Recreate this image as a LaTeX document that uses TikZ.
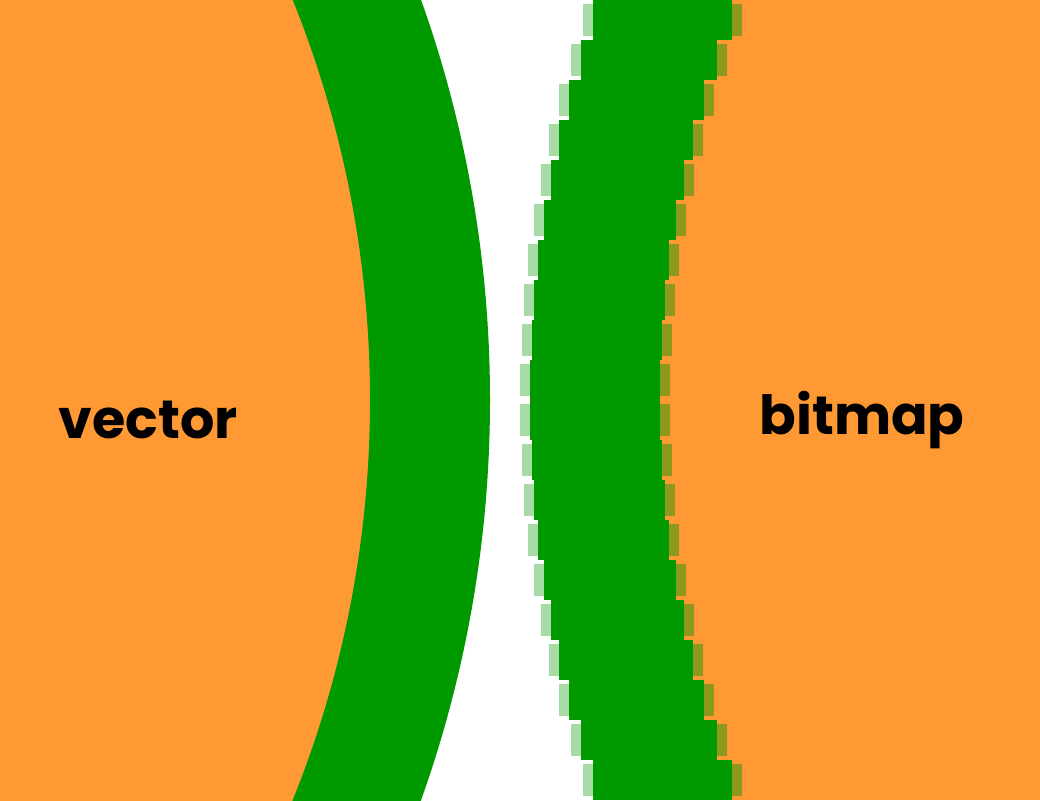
\documentclass[tikz,border=0pt]{standalone}
\usepackage{fontspec}
\setmainfont{Poppins}
\definecolor{peel}{HTML}{FF9933}
\definecolor{leaf}{HTML}{009900}

\begin{document}
\begin{tikzpicture}[x=1pt,y=-1pt]
\tikzset{word/.style={font=\bfseries\fontsize{54}{60}\selectfont,text=black}}

\useasboundingbox (0,0) rectangle (1040,800);
\clip (0,0) rectangle (1040,800);
\fill[white] (0,0) rectangle (1040,800);

% smooth circle
\fill[peel] (-700,400) circle[radius=1130pt];
\draw[leaf,line width=120pt] (-700,400) circle[radius=1130pt];

% pixelated circle, one band of pixels per step
\foreach \i in {0,...,19}{
  \pgfmathsetmacro{\dy}{(40*\i+20-400)/100}
  \pgfmathsetmacro{\xo}{1700-100*sqrt(11.7*11.7-\dy*\dy)}
  \pgfmathsetmacro{\xi}{1700-100*sqrt(10.4*10.4-\dy*\dy)}
  \fill[leaf] (\xo,40*\i) rectangle (1040,40*\i+40);
  \fill[leaf,opacity=.35] (\xo-10,40*\i+4) rectangle (\xo,40*\i+36);
  \fill[peel] (\xi,40*\i) rectangle (1040,40*\i+40);
  \fill[leaf,opacity=.45] (\xi,40*\i+4) rectangle (\xi+10,40*\i+36);
}

\node[word] (vec) at (148,420) {vector};
\node[word] (bmp) at (862,420) {bitmap};
\end{tikzpicture}
\end{document}
